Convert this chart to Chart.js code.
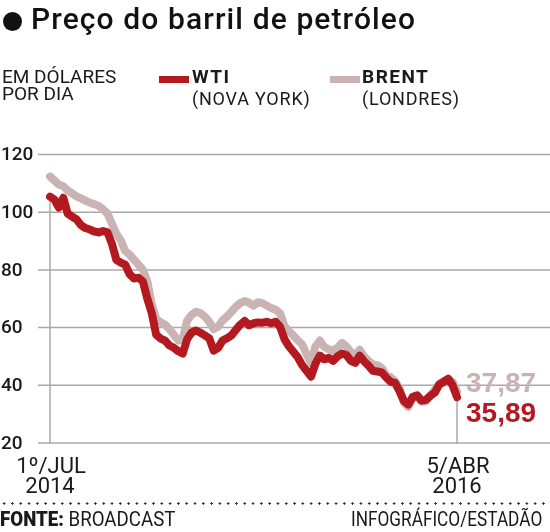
<!DOCTYPE html>
<html>
<head>
<meta charset="utf-8">
<script src="https://cdn.jsdelivr.net/npm/chart.js@4.4.1/dist/chart.umd.min.js"></script>
<style>
  html, body { margin: 0; padding: 0; background: #fff; }
  body { width: 550px; height: 532px; position: relative; overflow: hidden; font-family: Roboto, sans-serif; color: #1a1a1a; }
  #chart { position: absolute; left: 0; top: 0; }
  .t { position: absolute; white-space: nowrap; }
  #title { left: 31px; top: 4px; font-size: 30px; line-height: 30px; font-weight: 500; color: #111; letter-spacing: 1.1px; }
  #dot { position: absolute; left: 3px; top: 12px; width: 19px; height: 19px; border-radius: 50%; background: #111; }
  #unit { left: 2px; top: 68px; font-size: 19px; line-height: 17px; font-weight: 400; }
  .sw { position: absolute; height: 7px; width: 30px; }
  .lg { font-size: 18px; line-height: 22px; letter-spacing: 0.8px; }
  .lg b { font-weight: 700; letter-spacing: 1.5px; font-size: 19px; }
  #foot { position: absolute; left: 0; top: 502px; width: 550px; height: 3px;
          background-image: radial-gradient(circle, #333 1px, transparent 1.3px);
          background-size: 8.3px 3px; }
  .ft { top: 508px; font-size: 21px; line-height: 22px; transform-origin: left center; }
  #src { left: 0; transform: scaleX(0.89); }
  #credit { left: 351px; transform: scaleX(0.82); }
</style>
</head>
<body>
<canvas id="chart" width="550" height="532"></canvas>
<div id="dot"></div>
<div class="t" id="title">Preço do barril de petróleo</div>
<div class="t" id="unit">EM DÓLARES<br>POR DIA</div>
<div class="sw" style="left:159px; top:76px; background:#b3191f;"></div>
<div class="t lg" style="left:192px; top:66px;"><b>WTI</b><br>(NOVA YORK)</div>
<div class="sw" style="left:330px; top:76px; background:#c9b3b3;"></div>
<div class="t lg" style="left:362px; top:66px;"><b>BRENT</b><br>(LONDRES)</div>
<div id="foot"></div>
<div class="t ft" id="src"><b style="font-weight:900">FONTE:</b> BROADCAST</div>
<div class="t ft" id="credit">INFOGRÁFICO/ESTADÃO</div>

<script>
// weekly closes, 1 Jul 2014 -> 5 Apr 2016
var wti = [105.4, 104.4, 101.6, 105, 99.5, 98.5, 97.5, 95.5, 94.5, 94, 93.3, 93, 93.5, 93,
    89, 83.5, 82.5, 81.8, 78.5, 77, 77.3, 76, 70, 65, 57.5, 56.2, 55.5, 53.8, 53, 51.8, 51,
    56, 58.3, 59, 58.2, 57.3, 56.3, 52, 53, 55.5, 56.3, 57.3, 59.2, 61, 62.3, 60.8, 61.5,
    61.8, 61.7, 62, 61.5, 62, 60.3, 56, 53.5, 51.6, 49.7, 47, 45, 43, 47.5, 50.3, 49, 49.5,
    48.5, 50, 51, 50.5, 48.5, 47.8, 50.3, 48.3, 46.8, 45, 44.8, 44.5, 42.7, 41.2, 40.8, 38,
    34.5, 33.3, 36, 36.5, 34.7, 35, 36.4, 37.5, 40.3, 41.2, 42.3, 40, 35.89];

var brent = [112.4, 111, 109.6, 109, 107.5, 106.5, 105.5, 104.8, 104, 103.3, 102.8, 102.2,
    101, 99.5, 96, 92.5, 90.3, 86.5, 85.3, 83.5, 81.8, 80, 76, 68, 63, 61.8, 61, 59.5, 57.5,
    55.5, 56, 62.5, 64.4, 65.5, 65, 63.8, 62, 59.5, 60.3, 62.5, 63.8, 65.5, 67.2, 68.5, 69.2,
    68.6, 67.6, 68.8, 68.5, 67.6, 66.8, 66.2, 65, 60.5, 58.8, 57.3, 55.6, 54.2, 50.8, 47.5,
    53.5, 55.5, 53.3, 52.5, 52, 53, 54.7, 53.5, 51.5, 50.5, 52.3, 50, 48.5, 47.2, 47, 46,
    43.5, 42.8, 41.5, 39, 34, 32.5, 35.5, 36, 34.3, 34.5, 36.5, 38.5, 40.5, 41.5, 42, 41.2, 37.87];

var yTicks = [20, 40, 60, 80, 100, 120];
var xEnds = [["1º/JUL", "2014"], ["5/ABR", "2016"]];
var endLabels = ["35,89", "37,87"];

var weeks = wti.map(function(v, i) {
    var d = new Date(Date.UTC(2014, 6, 1 + i * 7));
    return d.toISOString().slice(0, 10);
});

var wtiColor = '#b3191f';
var brentColor = '#c9b3b3';

var decor = {
    id: 'decor',
    beforeDatasetsDraw: function(chart) {
        var ctx = chart.ctx, y = chart.scales.y, x = chart.scales.x;
        var bottom = y.getPixelForValue(20);
        ctx.save();
        ctx.strokeStyle = '#a9a9a9';
        ctx.lineWidth = 1.5;
        yTicks.forEach(function(v) {
            var py = y.getPixelForValue(v);
            ctx.beginPath();
            ctx.moveTo(38, py);
            ctx.lineTo(550, py);
            ctx.stroke();
        });
        // vertical markers under first and last point
        [0, wti.length - 1].forEach(function(i) {
            var px = x.getPixelForValue(i);
            ctx.beginPath();
            ctx.moveTo(px, y.getPixelForValue(wti[i]));
            ctx.lineTo(px, bottom + 1);
            ctx.stroke();
        });
        ctx.fillStyle = '#1a1a1a';
        ctx.font = '500 19px Roboto';
        ctx.textAlign = 'left';
        ctx.textBaseline = 'middle';
        yTicks.forEach(function(v) {
            ctx.fillText(String(v), 1, y.getPixelForValue(v) + 1);
        });
        ctx.restore();
    },
    afterDatasetsDraw: function(chart) {
        var ctx = chart.ctx, y = chart.scales.y, x = chart.scales.x;
        var last = wti.length - 1;
        ctx.save();
        ctx.font = '400 22px Roboto';
        ctx.fillStyle = '#1a1a1a';
        ctx.textAlign = 'center';
        ctx.textBaseline = 'alphabetic';
        [0, last].forEach(function(i, k) {
            var px = x.getPixelForValue(i);
            ctx.fillText(xEnds[k][0], px + 1, 473);
            ctx.fillText(xEnds[k][1], px, 493);
        });
        ctx.font = 'bold 28px "Liberation Sans"';
        ctx.textAlign = 'left';
        ctx.fillStyle = brentColor;
        ctx.fillText(endLabels[1], 466, y.getPixelForValue(brent[last]) + 1);
        ctx.fillStyle = wtiColor;
        ctx.fillText(endLabels[0], 466, y.getPixelForValue(wti[last]) + 25);
        ctx.restore();
    }
};

new Chart(document.getElementById('chart').getContext('2d'), {
    type: 'line',
    data: {
        labels: weeks,
        datasets: [{
            label: 'WTI',
            data: wti,
            borderColor: wtiColor,
            borderWidth: 8,
            pointRadius: 0,
            borderJoinStyle: 'round',
            borderCapStyle: 'round',
            tension: 0,
            clip: false
        }, {
            label: 'BRENT',
            data: brent,
            borderColor: brentColor,
            borderWidth: 8,
            pointRadius: 0,
            borderJoinStyle: 'round',
            borderCapStyle: 'round',
            tension: 0,
            clip: false
        }]
    },
    options: {
        responsive: false,
        animation: false,
        layout: { padding: { left: 50, right: 93, top: 154.5, bottom: 89 } },
        plugins: { legend: { display: false }, tooltip: { enabled: false } },
        scales: {
            x: { display: false, offset: false },
            y: { display: false, min: 20, max: 120 }
        }
    },
    plugins: [decor]
});
</script>
</body>
</html>
